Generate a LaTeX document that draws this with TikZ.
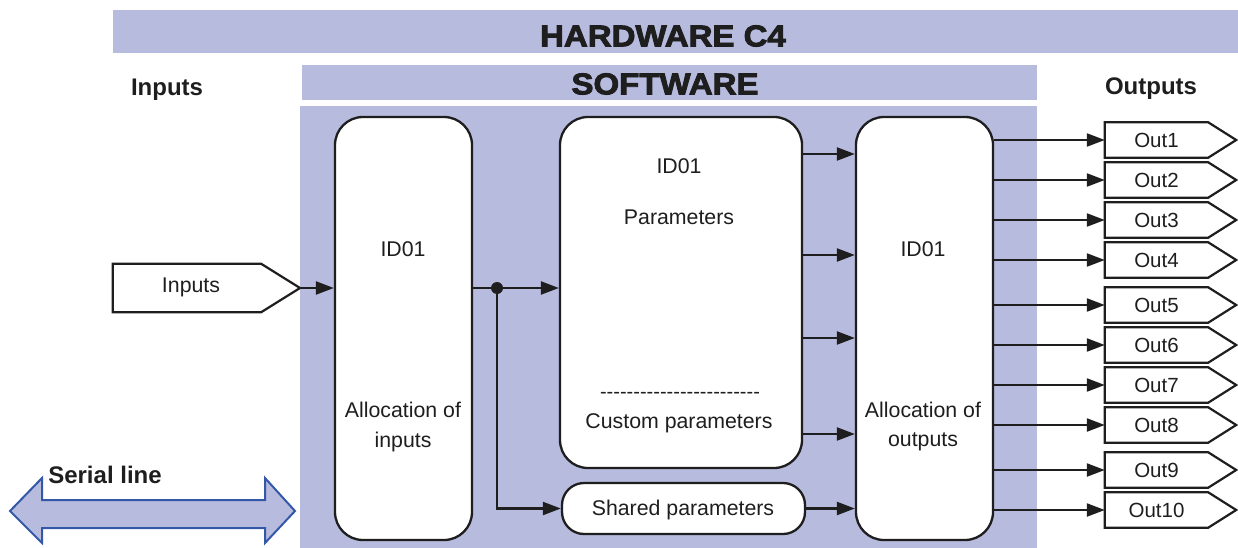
\documentclass[tikz,border=0pt]{standalone}
\usepackage{fontspec}
\setmainfont{Liberation Sans}
\newfontfamily\nolig{Liberation Sans}
\newfontfamily\heavyfont[FakeBold=3,FakeStretch=1.1]{Liberation Sans Bold}
\usetikzlibrary{arrows.meta,calc}
\definecolor{lav}{RGB}{183,187,222}
\definecolor{serblue}{RGB}{52,88,168}
\definecolor{ink}{RGB}{30,30,30}
\tikzset{
  bigbox/.style={draw=ink,fill=white,line width=2.3pt,rounded corners=28pt,inner sep=0pt},
  txt/.style={text=ink,inner sep=0pt,yshift=-1.5pt,font=\fontsize{21.3}{25}\selectfont},
  lbl/.style={text=ink,inner sep=0pt,yshift=-2.5pt,font=\fontsize{24}{28}\selectfont\bfseries},
  ttl/.style={text=ink,inner sep=0pt,font=\fontsize{30}{34}\selectfont\heavyfont},
  arr/.style={draw=ink,line width=2.2pt,-{Triangle[length=18pt,width=13pt]}},
  ln/.style={draw=ink,line width=2.2pt},
  outbox/.style={minimum width=103pt,minimum height=35pt,inner sep=0pt,text=ink,font=\fontsize{20.5}{24}\selectfont},
}
\begin{document}
\begin{tikzpicture}[x=1pt,y=-1pt]
\useasboundingbox (0,0) rectangle (1238,548);
% banners
\fill[lav] (113,10) rectangle (1238,53);
\node[ttl] (hw) at (663,36) {HARDWARE C4};
\fill[lav] (302,65) rectangle (1037,100);
\node[ttl] (sw) at (665,84) {SOFTWARE};
\fill[lav] (300,106) rectangle (1037,548);
% labels
\node[lbl] (inlbl) at (167,87) {Inputs};
\node[lbl] (outlbl) at (1151,86) {Outputs};
% serial line
\draw[serblue,fill=lav,line width=2pt,line join=miter]
  (10,511) -- (42,478) -- (42,500) -- (265,500) -- (265,478) -- (295,511)
  -- (265,543) -- (265,528) -- (42,528) -- (42,543) -- cycle;
\node[lbl] (serlbl) at (105,472.5) {Serial line};
% inputs pentagon
\node[minimum width=148pt,minimum height=48pt,inner sep=0pt] (inp) at (187,288) {};
\coordinate (intip) at (300,288);
\draw[ln,line join=miter,fill=white] (inp.north west) -- (inp.north east) -- (intip) -- (inp.south east) -- (inp.south west) -- cycle;
\node[txt] (inptxt) at (191,286) {Inputs};
% big boxes
\node[bigbox,minimum width=137pt,minimum height=423pt] (allocin) at (403.5,328.5) {};
\node[bigbox,minimum width=242pt,minimum height=351pt] (params) at (681,292.5) {};
\node[bigbox,rounded corners=22pt,minimum width=243pt,minimum height=51pt] (shared) at (683.5,508.5) {};
\node[bigbox,minimum width=137pt,minimum height=423pt] (allocout) at (924.5,328.5) {};
% texts in boxes
\node[txt] (t1) at (403,248) {ID01};
\node[txt] (t2) at (403,408) {Allocation of};
\node[txt] (t3) at (403,440) {inputs};
\node[txt] (t4) at (679,165) {ID01};
\node[txt] (t5) at (679,216) {Parameters};
\node[txt,font=\fontsize{20}{24}\selectfont\nolig] (t6) at (680,394) {------------------------};
\node[txt] (t7) at (679,422) {Custom parameters};
\node[txt] (t8) at (683,508) {Shared parameters};
\node[txt] (t9) at (923,248) {ID01};
\node[txt] (t10) at (923,408) {Allocation of};
\node[txt] (t11) at (923,440) {outputs};
% input connectors
\draw[arr] (intip) -- (allocin.west |- intip);
\coordinate (jn) at (497,288);
\draw[ln] (allocin.east |- jn) -- (jn);
\draw[arr] (jn) -- (params.west |- jn);
\draw[arr] (jn) |- (shared.west);
\fill[ink] (jn) circle (6pt);
% params to outputs
\foreach \yy in {154,255,338,434}
  \draw[arr] (params.east |- 0,\yy) -- (allocout.west |- 0,\yy);
\draw[arr] (shared.east) -- (allocout.west |- shared.east);
% output boxes
\foreach \i/\yy in {1/140,2/180,3/220,4/260,5/305,6/345,7/385,8/425,9/470,10/510}{
  \node[outbox] (out\i) at (1156.5,\yy) {Out\i};
  \draw[ln,line join=miter] (out\i.north west) -- (out\i.north east) -- ($(out\i.east)+(28,0)$) -- (out\i.south east) -- (out\i.south west) -- cycle;
  \draw[arr] (allocout.east |- out\i) -- (out\i.west);
}
\end{tikzpicture}
\end{document}
